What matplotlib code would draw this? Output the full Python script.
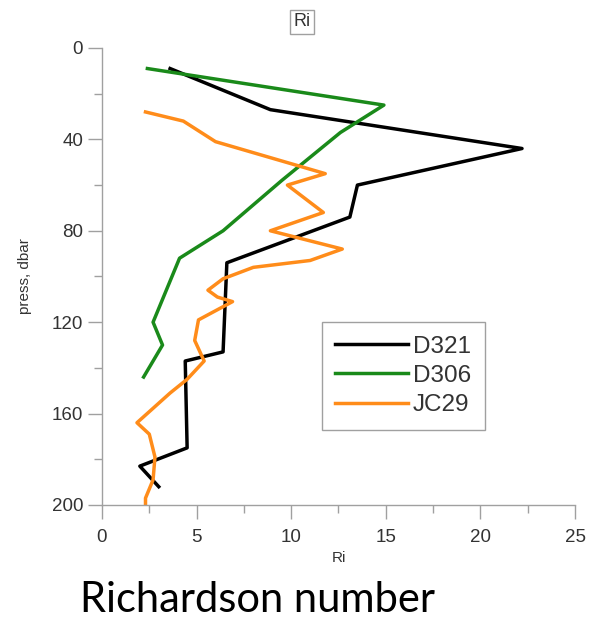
import matplotlib
matplotlib.use('Agg')
import matplotlib.pyplot as plt
from matplotlib.ticker import MultipleLocator

plt.rcParams['font.family'] = ['Liberation Sans', 'DejaVu Sans']

# Richardson number profiles (Ri, pressure in dbar)
d321_ri = [3.6, 8.9, 22.2, 13.5, 13.1, 6.6, 6.4, 4.4, 4.5, 2.0, 3.0]
d321_p = [9, 27, 44, 60, 74, 94, 133, 137, 175, 183, 192]

d306_ri = [2.4, 14.9, 12.6, 9.5, 6.4, 4.1, 2.7, 3.2, 2.2]
d306_p = [9, 25, 37, 58, 80, 92, 120, 130, 144]

jc29_ri = [2.3, 4.3, 6.0, 11.8, 9.8, 11.7, 8.9, 12.7, 11.0, 8.0, 6.4, 5.6, 6.1,
           6.9, 5.1, 4.9, 5.4, 4.5, 3.6, 1.85, 2.5, 2.8, 2.7, 2.3, 2.3]
jc29_p = [28, 32, 41, 55, 60, 72, 80, 88, 93, 96, 101, 106, 109,
          111, 119, 128, 137, 145, 151, 164, 169, 179, 189, 197, 200]

GRAY = '#a0a0a0'
TXT = '#333333'

fig = plt.figure(figsize=(5.95, 6.19), dpi=100)
ax = fig.add_axes([0.1714, 0.1842, 0.795, 0.7383])

ax.plot(d321_ri, d321_p, color='black', lw=2.5, label='D321')
ax.plot(d306_ri, d306_p, color='#1a8a1a', lw=2.5, label='D306')
ax.plot(jc29_ri, jc29_p, color='#ff8c1a', lw=2.5, label='JC29')

ax.set_xlim(0, 25)
ax.set_ylim(200, 0)
ax.xaxis.set_major_locator(MultipleLocator(5))
ax.xaxis.set_minor_locator(MultipleLocator(2.5))
ax.yaxis.set_major_locator(MultipleLocator(40))
ax.yaxis.set_minor_locator(MultipleLocator(20))

for s in ['top', 'right']:
    ax.spines[s].set_visible(False)
for s in ['left', 'bottom']:
    ax.spines[s].set_color(GRAY)
    ax.spines[s].set_linewidth(1.0)

ax.tick_params(which='major', length=10, width=1, color=GRAY, labelsize=13.5,
               labelcolor=TXT, direction='out')
ax.tick_params(which='minor', length=6, width=1, color=GRAY, direction='out')
ax.tick_params(axis='x', which='major', pad=7)

ax.set_xlabel('Ri', fontsize=11, color=TXT, labelpad=4)
ax.set_ylabel('press, dbar', fontsize=11, color=TXT, labelpad=14)

leg = ax.legend(loc='upper left', bbox_to_anchor=(0.465, 0.40), borderaxespad=0,
                fontsize=17.5, handlelength=3.0, handletextpad=0.2,
                labelspacing=0.3, fancybox=False, edgecolor=GRAY,
                framealpha=1, borderpad=0.55)
for t in leg.get_texts():
    t.set_color(TXT)

fig.text(302 / 595, 1 - 22 / 619, 'Ri', fontsize=13, color=TXT, ha='center', va='center',
         bbox=dict(boxstyle='square,pad=0.2', fc='white', ec=GRAY, lw=1))

fig.text(80 / 595, 1 - 600 / 619, 'Richardson number', fontsize=30,
         family=['Lato', 'DejaVu Sans'], color='black', ha='left', va='center')

fig.savefig('out.png', dpi=100)
